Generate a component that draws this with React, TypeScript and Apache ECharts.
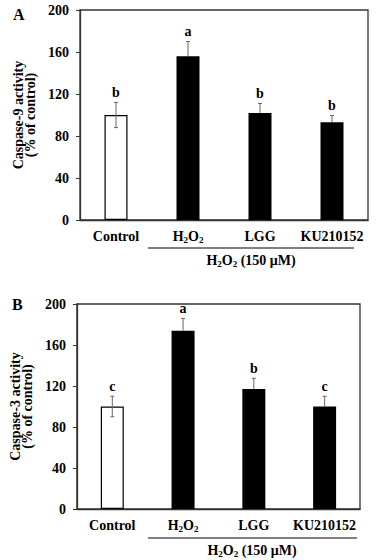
import React, { useEffect, useRef } from "react";
import * as echarts from "echarts";

const categories = ["Control", "H2O2", "LGG", "KU210152"];
const casp9Mean = [100, 156, 102, 93];
const casp9Err = [12, 14, 9, 6.5];
const casp9Letters = ["b", "a", "b", "b"];
const casp3Mean = [100, 174, 117, 100];
const casp3Err = [10, 12, 10.5, 10];
const casp3Letters = ["c", "a", "b", "c"];
const yMin = 0;
const yMax = 200;
const yInterval = 40;
const barColors = ["#ffffff", "#000000", "#000000", "#000000"];

const FONT = '"Liberation Serif", "Times New Roman", serif';

const rich = {
  n: { fontFamily: FONT, fontWeight: "bold", fontSize: 14, color: "#000", lineHeight: 16 },
  s: { fontFamily: FONT, fontWeight: "bold", fontSize: 9, color: "#000", lineHeight: 10, verticalAlign: "bottom" },
};

function fmtLabel(v: string) {
  if (v === "H2O2") return "{n|H}{s|2}{n|O}{s|2}";
  return "{n|" + v + "}";
}

export default function App() {
  const ref = useRef<HTMLDivElement>(null);
  useEffect(() => {
    if (!ref.current) return;
    const chart = echarts.init(ref.current, null, { renderer: "svg" });
    const axisColor = "#333";
    const grids = [
      { left: 80, top: 10, width: 288, height: 210 },
      { left: 71, top: 304, width: 289, height: 205 },
    ];
    const names = ["Caspase-9 activity\n(% of control)", "Caspase-3 activity\n(% of control)"];
    const nameGaps = [42, 38];
    const means = [casp9Mean, casp3Mean];
    const errs = [casp9Err, casp3Err];
    const letters = [casp9Letters, casp3Letters];

    const series: any[] = [];
    [0, 1].forEach((g) => {
      series.push({
        type: "bar",
        xAxisIndex: g,
        yAxisIndex: g,
        barWidth: 23,
        data: means[g].map((v, i) => ({
          value: v,
          itemStyle: { color: barColors[i], borderColor: "#000", borderWidth: i === 0 ? 1.2 : 0 },
        })),
      });
      series.push({
        type: "custom",
        xAxisIndex: g,
        yAxisIndex: g,
        z: 5,
        data: means[g].map((v, i) => [i, v, errs[g][i]]),
        renderItem: (params: any, api: any) => {
          const idx = api.value(0);
          const m = api.value(1);
          const e = api.value(2);
          const top = api.coord([idx, m + e]);
          const mid = api.coord([idx, m]);
          const bot = api.coord([idx, m - e]);
          const st = { stroke: "#666", lineWidth: 1 };
          const light = barColors[params.dataIndex] === "#ffffff";
          const children: any[] = [
            { type: "line", shape: { x1: top[0], y1: top[1], x2: mid[0], y2: mid[1] }, style: st },
            { type: "line", shape: { x1: top[0] - 2, y1: top[1], x2: top[0] + 2, y2: top[1] }, style: st },
          ];
          if (light) {
            children.push({ type: "line", shape: { x1: mid[0], y1: mid[1], x2: bot[0], y2: bot[1] }, style: st });
            children.push({ type: "line", shape: { x1: bot[0] - 2, y1: bot[1], x2: bot[0] + 2, y2: bot[1] }, style: st });
          }
          children.push({
            type: "text",
            x: top[0],
            y: top[1] - 3,
            style: {
              text: letters[g][params.dataIndex],
              align: "center",
              verticalAlign: "bottom",
              fontFamily: FONT,
              fontWeight: "bold",
              fontSize: 14,
              fill: "#000",
            },
          });
          return { type: "group", children };
        },
      });
    });

    const groupLabel = "{n|H}{s|2}{n|O}{s|2}{n| (150 μM)}";

    chart.setOption({
      animation: false,
      grid: grids.map((gr) => ({ ...gr, show: true, borderColor: axisColor, borderWidth: 1.3, backgroundColor: "transparent" })),
      xAxis: [0, 1].map((g) => ({
        type: "category",
        gridIndex: g,
        data: categories,
        axisLine: { lineStyle: { color: axisColor, width: 1.3 } },
        axisTick: { alignWithLabel: true, length: 3, lineStyle: { color: axisColor, width: 1 } },
        axisLabel: { formatter: fmtLabel, rich, margin: 8, interval: 0 },
      })),
      yAxis: [0, 1].map((g) => ({
        type: "value",
        gridIndex: g,
        min: yMin,
        max: yMax,
        interval: yInterval,
        splitLine: { show: false },
        axisLine: { show: true, lineStyle: { color: axisColor, width: 1.3 } },
        axisTick: { show: true, length: 4, lineStyle: { color: axisColor, width: 1 } },
        axisLabel: { fontFamily: FONT, fontWeight: "bold", fontSize: 14, color: "#000", margin: 11 },
        name: names[g],
        nameLocation: "middle",
        nameRotate: 90,
        nameGap: nameGaps[g],
        nameTextStyle: { fontFamily: FONT, fontWeight: "bold", fontSize: 14, color: "#000", lineHeight: 12 },
      })),
      series,
      graphic: [
        { type: "text", x: 13, y: 14, style: { text: "A", fontFamily: FONT, fontWeight: "bold", fontSize: 16, fill: "#000", verticalAlign: "middle" } },
        { type: "text", x: 12, y: 304, style: { text: "B", fontFamily: FONT, fontWeight: "bold", fontSize: 16, fill: "#000", verticalAlign: "middle" } },
        { type: "line", shape: { x1: 148, y1: 248, x2: 354, y2: 248 }, style: { stroke: "#000", lineWidth: 1.2 } },
        { type: "line", shape: { x1: 148, y1: 538, x2: 357, y2: 538 }, style: { stroke: "#000", lineWidth: 1.2 } },
        { type: "text", x: 251, y: 260, style: { text: groupLabel, rich, align: "center", verticalAlign: "middle" } },
        { type: "text", x: 252, y: 550, style: { text: groupLabel, rich, align: "center", verticalAlign: "middle" } },
      ],
    });
    return () => chart.dispose();
  }, []);
  return <div ref={ref} style={{ position: "absolute", left: 0, top: 0, width: 381, height: 560 }} />;
}
